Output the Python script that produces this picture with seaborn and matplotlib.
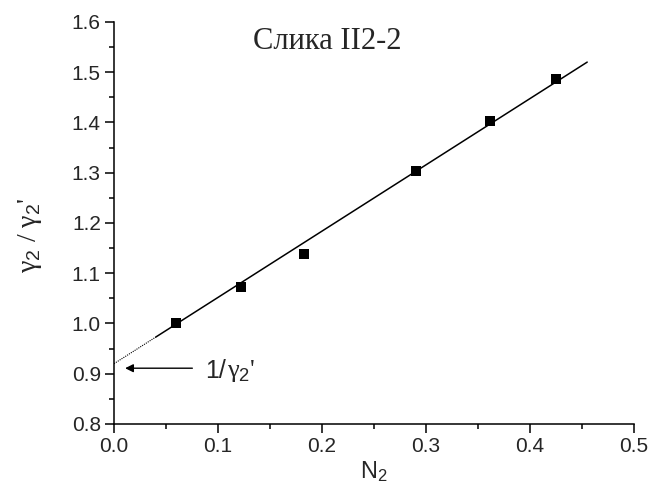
import numpy as np
import pandas as pd
import matplotlib
matplotlib.use("Agg")
import matplotlib.pyplot as plt
import seaborn as sns
from matplotlib.ticker import MultipleLocator

sns.set_style("ticks")
plt.rcParams['font.family'] = ['Liberation Sans', 'DejaVu Sans']
plt.rcParams['mathtext.fontset'] = 'custom'
plt.rcParams['mathtext.rm'] = 'Liberation Sans'
plt.rcParams['mathtext.it'] = 'Liberation Sans'

n2 = [0.060, 0.122, 0.183, 0.290, 0.362, 0.425]
ratio = [1.000, 1.073, 1.138, 1.303, 1.403, 1.487]
fit_intercept = 0.92
fit_slope = 1.319
fit_x_solid = [0.04, 0.455]
fit_x_dotted = [0.0, 0.04]
x_ticks = [0.0, 0.1, 0.2, 0.3, 0.4, 0.5]
y_ticks = [0.8, 0.9, 1.0, 1.1, 1.2, 1.3, 1.4, 1.5, 1.6]
title_text = "Слика II2-2"

df = pd.DataFrame({"N2": n2, "ratio": ratio})
fit_solid = pd.DataFrame({"N2": fit_x_solid})
fit_solid["ratio"] = fit_intercept + fit_slope * fit_solid["N2"]
fit_dot = pd.DataFrame({"N2": fit_x_dotted})
fit_dot["ratio"] = fit_intercept + fit_slope * fit_dot["N2"]

fig = plt.figure(figsize=(6.5, 4.84), dpi=100)
ax = fig.add_axes([0.1754, 0.124, 0.80, 0.8306])

sns.lineplot(data=fit_solid, x="N2", y="ratio", color="black", lw=1.1, ax=ax)
sns.lineplot(data=fit_dot, x="N2", y="ratio", color="black", lw=0.8, ls=(0, (1, 1)), ax=ax)
sns.scatterplot(data=df, x="N2", y="ratio", marker="s", s=50, color="black",
                edgecolor="black", linewidth=0, ax=ax, zorder=5)

ax.set_xlim(0, 0.5)
ax.set_ylim(0.8, 1.6)
ax.set_xticks(x_ticks)
ax.set_yticks(y_ticks)
ax.set_xticklabels([f"{v:.1f}" for v in x_ticks])
ax.set_yticklabels([f"{v:.1f}" for v in y_ticks])
ax.xaxis.set_minor_locator(MultipleLocator(0.05))
ax.yaxis.set_minor_locator(MultipleLocator(0.05))
ax.tick_params(which="major", direction="out", length=6.5, width=1.1, labelsize=15, color="black", pad=3)
ax.tick_params(which="minor", direction="out", length=3.6, width=1.1, color="black")
sns.despine(ax=ax)
for s in ["left", "bottom"]:
    ax.spines[s].set_linewidth(1.1)
    ax.spines[s].set_color("black")

ax.set_xlabel(r"N$_2$", fontsize=17, labelpad=2)
ax.set_ylabel(r"γ$_2$ / γ$_2$'", fontsize=20,
              family=["Liberation Serif", "DejaVu Serif"])
ax.yaxis.set_label_coords(-0.135, 0.47)

ax.text(0.205, 1.562, title_text, fontsize=22, family=["Liberation Serif", "DejaVu Serif"],
        ha="center", va="center")

ax.annotate("", xy=(0.008, 0.911), xytext=(0.078, 0.911),
            arrowprops=dict(arrowstyle="-|>", color="black", lw=1.0, mutation_scale=12))
ax.text(0.0875, 0.906, "1/", fontsize=18, ha="left", va="center")
ax.text(0.1085, 0.906, r"γ$_2$'", fontsize=19, ha="left", va="center",
        family=["Liberation Serif", "DejaVu Serif"])

fig.savefig("out.png", dpi=100)
